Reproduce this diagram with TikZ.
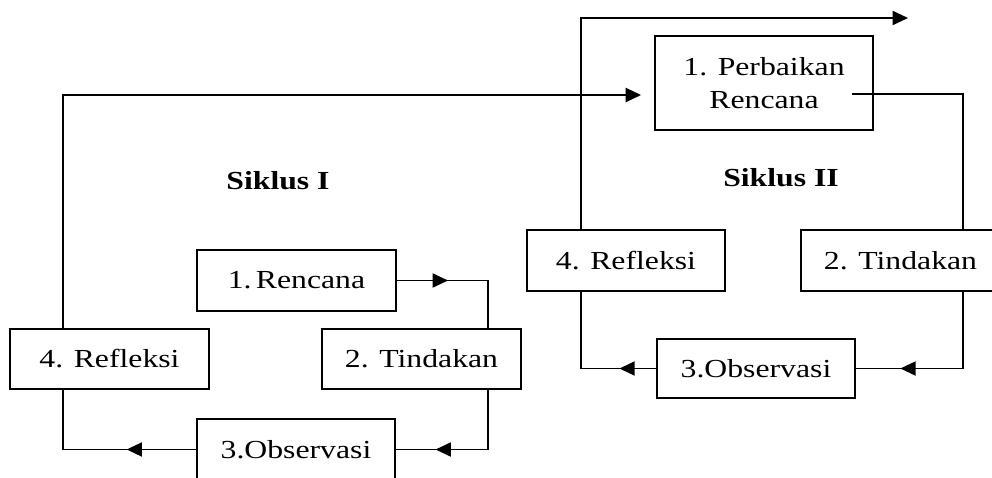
\documentclass[tikz,border=0pt]{standalone}
\usepackage{fontspec}
\setmainfont{Liberation Serif}[FakeStretch=1.22]
\usetikzlibrary{arrows.meta,decorations.markings,calc}

\begin{document}
\begin{tikzpicture}[x=0.75pt,y=-0.75pt,line width=1.4pt,
  box/.style={draw,rectangle,inner sep=0pt,minimum width=149pt,minimum height=45.5pt,
    font=\fontsize{19.5}{25}\selectfont},
  title/.style={font=\fontsize{19.5}{25}\selectfont\bfseries},
  tip/.style={-{Triangle[length=11.5pt,width=10.5pt]}},
  mid/.style={postaction={decorate,decoration={markings,
    mark=at position #1 with {\arrow{Triangle[length=11.5pt,width=10.5pt]}}}}}]

  \clip (0,0) rectangle (992,478);

  % siklus I
  \node[box]  (ren1) at (296.5,280.5) {1.\,Rencana};
  \node[box]  (tin1) at (421.5,359)   {2. Tindakan};
  \node[box]  (obs1) at (296,449.5)   {3.Observasi};
  \node[box]  (ref1) at (109.5,359)   {4. Refleksi};
  \node[title] (sik1) at (278,181)    {Siklus I};

  % siklus II
  \node[box,minimum width=163.5pt,minimum height=70.5pt,align=center]
              (per2) at (764,83)      {1. Perbaikan\\Rencana};
  \node[box]  (tin2) at (900.5,260.5) {2. Tindakan};
  \node[box,minimum height=44.5pt]
              (obs2) at (756,368.5)   {3.Observasi};
  \node[box]  (ref2) at (626,260.5)   {4. Refleksi};
  \node[title] (sik2) at (781,177.5)  {Siklus II};

  \coordinate (xL) at (63,0);
  \coordinate (xI) at (488,0);
  \coordinate (xM) at (581,0);
  \coordinate (xR) at (963,0);
  \coordinate (pin)  at ($(per2.west)+(-13,12)$);
  \coordinate (pout) at ($(per2.east)+(-22,11)$);
  \coordinate (out)  at (908,18);

  \draw[mid=0.37] (ren1.east) -| (xI |- tin1.north);
  \draw[mid=0.74] (xI |- tin1.south) |- (obs1.east);
  \draw[mid=0.36] (obs1.west) -| (xL |- ref1.south);
  \draw[tip] (xL |- ref1.north) |- (pin);

  \draw (pout) -| (xR |- tin2.north);
  \draw[mid=0.76] (xR |- tin2.south) |- (obs2.east);
  \draw[mid=0.24] (obs2.west) -| (xM |- ref2.south);
  \draw[tip] (xM |- ref2.north) |- (out);
\end{tikzpicture}
\end{document}
